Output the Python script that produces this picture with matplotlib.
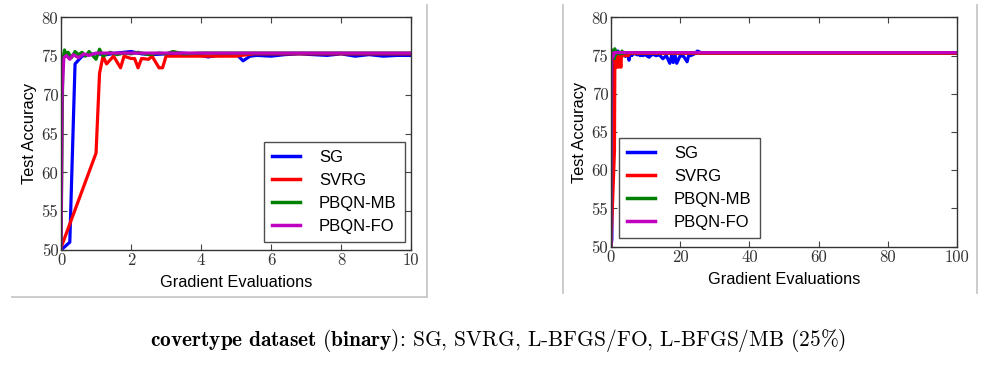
import matplotlib
matplotlib.use('Agg')
import matplotlib.pyplot as plt
from matplotlib.lines import Line2D

# data (same runs shown on both panels)
sg_x = [0, 0.2, 0.25, 0.4, 0.6, 0.8, 1.0, 1.3, 1.6, 2.0, 2.3, 2.6, 3.0, 3.4, 3.8, 4.2,
        4.6, 5.0, 5.2, 5.4, 5.6, 6.0, 6.4, 6.8, 7.2, 7.6, 8.0, 8.4, 8.8, 9.2, 9.6, 10,
        11, 12, 13, 14, 15, 16, 17, 17.5, 18, 18.5, 19, 20, 21, 22, 22.5, 23, 24, 25,
        26, 30, 40, 60, 80, 100]
sg_y = [50.0, 50.8, 51.0, 74.0, 75.0, 75.2, 75.3, 75.2, 75.4, 75.6, 75.3, 75.2, 75.3,
        75.4, 75.3, 74.9, 75.2, 75.3, 74.4, 75.0, 75.1, 75.0, 75.2, 75.3, 75.2, 75.1,
        75.3, 75.0, 75.2, 75.0, 75.1, 75.1, 74.8, 75.2, 75.0, 75.1, 74.6, 75.0, 74.0,
        75.0, 74.1, 75.1, 74.0, 75.0, 74.9, 74.2, 75.1, 75.0, 75.2, 75.6, 75.4, 75.3,
        75.3, 75.3, 75.3, 75.3]

svrg_x = [0, 1.0, 1.1, 1.2, 1.3, 1.5, 1.7, 1.8, 2.0, 2.1, 2.2, 2.3, 2.5, 2.6, 2.8, 2.9,
          3.0, 3.5, 5.0, 5.5, 10, 100]
svrg_y = [50.3, 62.5, 72.8, 75.0, 74.0, 75.0, 73.5, 75.0, 74.7, 74.7, 73.5, 74.7, 74.6,
          75.0, 73.5, 73.5, 75.0, 75.0, 75.0, 75.3, 75.3, 75.3]

mb_x = [0, 0.05, 0.1, 0.15, 0.2, 0.3, 0.4, 0.5, 0.6, 0.7, 0.8, 0.9, 1.0, 1.1, 1.2, 1.4,
        1.6, 1.8, 2.0, 2.2, 2.5, 2.8, 3.0, 3.2, 3.5, 4.0, 100]
mb_y = [50.0, 74.5, 75.8, 75.0, 75.5, 74.8, 75.6, 75.2, 75.5, 75.0, 75.6, 75.1, 74.6,
        75.9, 75.0, 75.5, 75.2, 75.4, 75.3, 75.5, 75.2, 75.4, 75.3, 75.6, 75.3, 75.4, 75.4]

fo_x = [0, 0.03, 0.08, 0.15, 0.25, 0.35, 0.5, 0.65, 0.8, 1.0, 1.5, 100]
fo_y = [50.0, 70.0, 74.8, 75.1, 74.6, 75.2, 74.8, 75.3, 75.1, 75.4, 75.4, 75.4]

labels = ['SG', 'SVRG', 'PBQN-MB', 'PBQN-FO']
colors = ['b', 'r', 'g', 'm']
series = [(sg_x, sg_y), (svrg_x, svrg_y), (mb_x, mb_y), (fo_x, fo_y)]

plt.rcParams['mathtext.fontset'] = 'cm'
sans = 'Liberation Sans'

fig = plt.figure(figsize=(9.99, 3.68), dpi=100)
ax1 = fig.add_axes([0.0611, 0.3207, 0.3504, 0.632])
ax2 = fig.add_axes([0.6116, 0.3296, 0.3463, 0.623])


def draw(ax, xmax, xticks, legend_anchor):
    for (x, y), lab, c in zip(series, labels, colors):
        ax.plot(x, y, color=c, lw=2.3, label=lab)
    ax.set_xlim(0, xmax)
    ax.set_ylim(50, 80)
    ax.set_xticks(xticks)
    ax.set_yticks(range(50, 81, 5))
    ax.tick_params(direction='in', top=True, right=True, length=4, width=0.8,
                   color='#444444', pad=2)
    for lbl in ax.get_xticklabels() + ax.get_yticklabels():
        lbl.set_family('cmr10')
        lbl.set_fontsize(12)
        lbl.set_color('#333333')
    for sp in ax.spines.values():
        sp.set_color('#333333')
        sp.set_linewidth(1.0)
    ax.set_xlabel('Gradient Evaluations', family=sans, fontsize=11.8, labelpad=5)
    ax.set_ylabel('Test Accuracy', family=sans, fontsize=11.8, labelpad=3)
    leg = ax.legend(loc='lower left', bbox_to_anchor=legend_anchor, borderaxespad=0,
                    prop={'family': sans, 'size': 12},
                    fancybox=False, edgecolor='#222222', handlelength=1.65,
                    handletextpad=1.15, labelspacing=0.47, borderpad=0.5)
    leg.get_frame().set_linewidth(1.0)
    for h in leg.get_lines():
        h.set_linewidth(2.5)


draw(ax1, 10, range(0, 11, 2), (0.58, 0.034))
draw(ax2, 100, range(0, 101, 20), (0.023, 0.038))

# gray panel separators from the source document
gray = '#c8c8c8'
fig.add_artist(Line2D([12 / 999, 427 / 999], [1 - 297 / 368] * 2, color=gray, lw=1.3))
fig.add_artist(Line2D([427 / 999] * 2, [1 - 5 / 368, 1 - 297 / 368], color=gray, lw=1.3))
fig.add_artist(Line2D([563 / 999] * 2, [1 - 5 / 368, 1 - 293 / 368], color=gray, lw=1.3))
fig.add_artist(Line2D([977 / 999] * 2, [1 - 5 / 368, 1 - 293 / 368], color=gray, lw=1.3))

fig.text(0.499, 1 - 340 / 368,
         r'$\mathbf{covertype\ dataset\ (binary)}$: SG, SVRG, L-BFGS/FO, L-BFGS/MB (25%)',
         family='cmr10', fontsize=15.4, ha='center', va='center')

fig.savefig('out.png', dpi=100)
